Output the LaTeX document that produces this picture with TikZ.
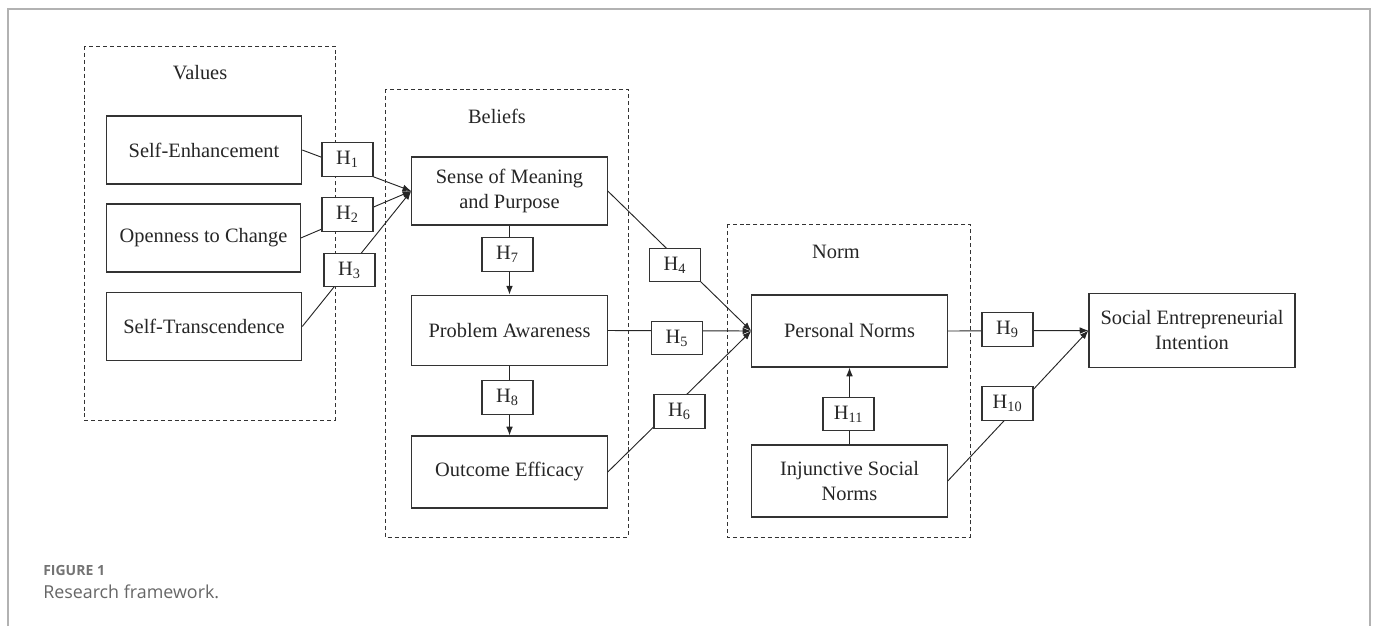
\documentclass[tikz,border=0pt]{standalone}
\usepackage{fontspec}
\setmainfont{Liberation Serif}
\newfontfamily\capfont{Open Sans}
\usetikzlibrary{arrows.meta}
\begin{document}
\begin{tikzpicture}[x=0.75pt,y=-0.75pt,
  every node/.style={font=\fontsize{15.3}{18.75}\selectfont, text=black!85},
  concept/.style={draw=black!80, line width=0.9pt, fill=white, align=center,
    minimum width=146.5pt, minimum height=51pt, inner sep=2pt},
  hyp/.style={draw=black!80, line width=0.9pt, fill=white,
    minimum width=38.25pt, minimum height=25pt, inner sep=1pt},
  group/.style={draw=black!80, dash pattern=on 3pt off 2.2pt, line width=0.75pt},
  link/.style={draw=black!85, line width=0.7pt},
  arr/.style={link, -{Latex[length=6.5pt,width=5pt]}},
  outerframe/.style={draw=black!30, line width=1.5pt}]
\useasboundingbox (0,0) rectangle (1375,626);
\draw[outerframe] (8,626) -- (8,9) -- (1370,9) -- (1370,626);

% groups
\draw[group] (84,46) rectangle (335,420);
\node (tvalues) at (200,73) {Values};
\draw[group] (385,89) rectangle (628,537);
\node (tbeliefs) at (497,116) {Beliefs};
\draw[group] (727,224) rectangle (970,537);
\node (tnorm) at (836,252) {Norm};

% concepts
\node[concept] (se) at (204,150) {Self-Enhancement};
\node[concept, minimum width=145pt] (oc) at (203.5,238) {Openness to Change};
\node[concept] (st) at (204,326.5) {Self-Transcendence};
\node[concept] (smp) at (509.5,191) {Sense of Meaning\\and Purpose};
\node[concept, minimum height=53pt] (pa) at (509.5,330.5) {Problem Awareness};
\node[concept, minimum height=54pt] (oe) at (509.5,472) {Outcome Efficacy};
\node[concept, minimum height=54pt] (pn) at (849.5,331) {Personal Norms};
\node[concept, minimum height=54pt] (isn) at (849.5,481) {Injunctive Social\\Norms};
\node[concept, minimum width=154.5pt, minimum height=55pt] (sei) at (1192,330.5) {Social Entrepreneurial\\Intention};

% connectors
\draw[arr] (se.east) -- (smp.west);
\draw[arr] (oc.east) -- (smp.west);
\draw[arr] (st.east) -- (smp.west);
\draw[arr] (smp.east) -- (pn.west);
\draw[arr] (pa.east) -- (pn.west);
\draw[arr] (oe.east) -- (pn.west);
\draw[arr] (smp.south) -- (pa.north);
\draw[arr] (pa.south) -- (oe.north);
\draw[arr] (pn.east) -- (sei.west);
\draw[arr] (isn.east) -- (sei.west);
\draw[arr] (isn.north) -- (pn.south);

% hypothesis labels
\node[hyp] (h1) at (347.5,159.5) {H\textsubscript{1}};
\node[hyp] (h2) at (347.5,214.5) {H\textsubscript{2}};
\node[hyp] (h3) at (349.5,270) {H\textsubscript{3}};
\node[hyp] (h4) at (675,265) {H\textsubscript{4}};
\node[hyp] (h5) at (677,338) {H\textsubscript{5}};
\node[hyp] (h6) at (679.5,411.5) {H\textsubscript{6}};
\node[hyp] (h7) at (507.5,254.5) {H\textsubscript{7}};
\node[hyp] (h8) at (507.5,397.5) {H\textsubscript{8}};
\node[hyp] (h9) at (1007.5,329.5) {H\textsubscript{9}};
\node[hyp] (h10) at (1007.5,403.5) {H\textsubscript{10}};
\node[hyp] (h11) at (848.5,414) {H\textsubscript{11}};

% caption
\node[anchor=base west, inner sep=0pt, font=\capfont\bfseries\fontsize{10.5}{12}\selectfont, text=black!55] (figlbl) at (43,575) {FIGURE 1};
\node[anchor=base west, inner sep=0pt, font=\capfont\fontsize{13.4}{15}\selectfont, text=black!60] (figcap) at (43,598) {Research framework.};
\end{tikzpicture}
\end{document}
